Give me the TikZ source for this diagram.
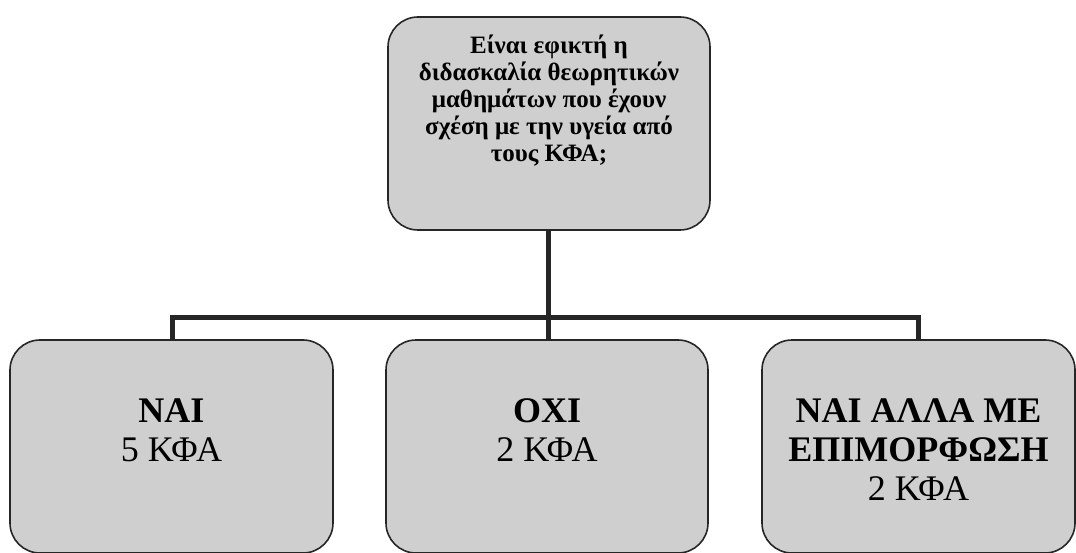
\documentclass[tikz,border=0pt]{standalone}
\usepackage{fontspec}
\setmainfont{Liberation Serif}
\begin{document}
\begin{tikzpicture}[x=1pt,y=-1pt,
  box/.style={draw=black!85, line width=1.6pt, rounded corners=30pt, fill=black!19, inner sep=0pt},
  conn/.style={draw=black!85, line width=5pt},
  toptext/.style={font=\fontsize{25}{27}\selectfont\bfseries, align=center, anchor=north, inner sep=0pt},
  bottext/.style={font=\fontsize{36}{39}\selectfont, align=center, anchor=north, inner sep=0pt}]
\useasboundingbox (0,0) rectangle (1076,553);
\path[box] (388,17) rectangle (710,230);
\node[minimum width=322pt, minimum height=213pt] (top) at (549,123.5) {};
\path[box] (10,340) rectangle (333,553);
\node[minimum width=323pt, minimum height=213pt] (b1) at (171.5,446.5) {};
\path[box] (386,340) rectangle (708,553);
\node[minimum width=322pt, minimum height=213pt] (b2) at (547,446.5) {};
\path[box] (762,340) rectangle (1075,553);
\node[minimum width=313pt, minimum height=213pt] (b3) at (918.5,446.5) {};
\node[toptext] (tt) at ([yshift=-18pt]top.north) {Είναι εφικτή η\\διδασκαλία θεωρητικών\\μαθημάτων που έχουν\\σχέση με την υγεία από\\τους ΚΦΑ;};
\node[bottext] (t1) at ([yshift=-59pt]b1.north) {\textbf{ΝΑΙ}\\5 ΚΦΑ};
\node[bottext] (t2) at ([yshift=-59pt]b2.north) {\textbf{ΟΧΙ}\\2 ΚΦΑ};
\node[bottext] (t3) at ([yshift=-59pt]b3.north) {\textbf{ΝΑΙ ΑΛΛΑ ΜΕ}\\\textbf{ΕΠΙΜΟΡΦΩΣΗ}\\2 ΚΦΑ};
\coordinate (j) at (548,317);
\draw[conn] (top.south -| j) -- (j);
\draw[conn] ([xshift=0.5pt]b1.north) |- (j) -| (b3.north);
\draw[conn] (j) -- (j |- b2.north);
\end{tikzpicture}
\end{document}
